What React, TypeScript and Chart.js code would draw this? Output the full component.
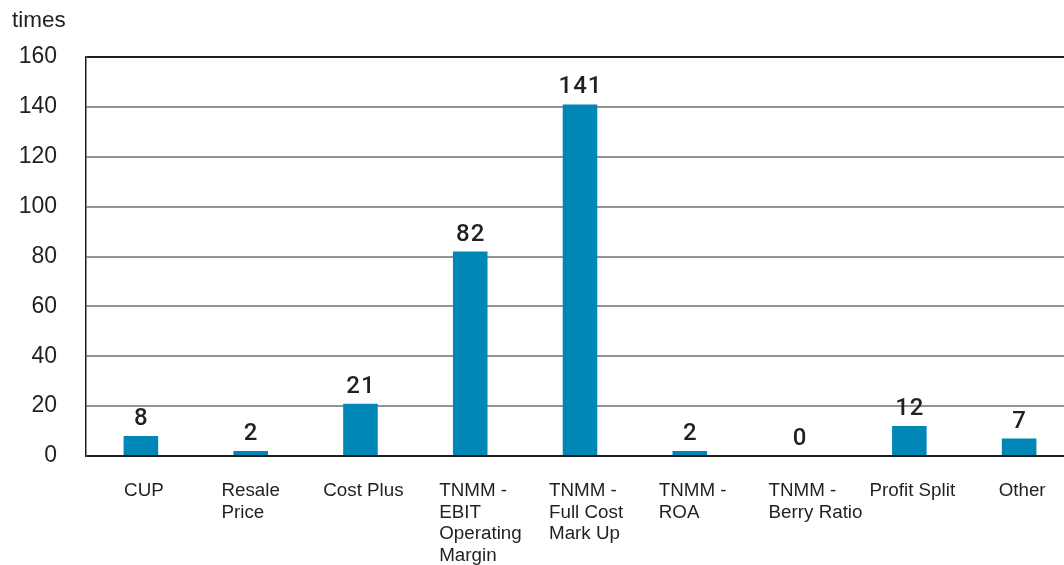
import React, { useEffect, useRef } from "react";
import { Chart, registerables } from "chart.js";

Chart.register(...registerables);

const categoryLines: string[][] = [
  ["CUP"],
  ["Resale", "Price"],
  ["Cost Plus"],
  ["TNMM -", "EBIT", "Operating", "Margin"],
  ["TNMM -", "Full Cost", "Mark Up"],
  ["TNMM -", "ROA"],
  ["TNMM -", "Berry Ratio"],
  ["Profit Split"],
  ["Other"],
];
const categories = categoryLines.map((l) => l.join(" "));
const counts = [8, 2, 21, 82, 141, 2, 0, 12, 7];
const yTicks = [0, 20, 40, 60, 80, 100, 120, 140, 160];
const unitLabel = "times";

const TEXT = "#231f20";
const BAR = "#0086b7";

export default function App() {
  const ref = useRef<HTMLCanvasElement | null>(null);

  useEffect(() => {
    if (!ref.current) return;
    const labelsPlugin = {
      id: "customLabels",
      afterDatasetsDraw(chart: any) {
        const ctx = chart.ctx;
        const meta = chart.getDatasetMeta(0);
        ctx.save();
        ctx.fillStyle = TEXT;
        ctx.font = '500 24px Roboto';
        try {
          (ctx as any).letterSpacing = "1px";
        } catch (e) {}
        ctx.textAlign = "center";
        ctx.textBaseline = "alphabetic";
        meta.data.forEach((bar: any, i: number) => {
          ctx.fillText(String(counts[i]), bar.x + 0.5, bar.y - 11);
        });
        ctx.restore();
      },
      afterDraw(chart: any) {
        const ctx = chart.ctx;
        const area = chart.chartArea;
        const xs = chart.scales.x;
        ctx.save();
        ctx.fillStyle = TEXT;
        ctx.textBaseline = "alphabetic";
        ctx.textAlign = "left";
        ctx.font = '22.5px "Liberation Sans", Arial, sans-serif';
        ctx.fillText(unitLabel, 12, area.top - 30.5);
        ctx.font = '18.8px "Liberation Sans", Arial, sans-serif';
        categoryLines.forEach((lines, i) => {
          const cx = xs.getPixelForValue(i);
          const maxW = Math.max(...lines.map((l) => ctx.measureText(l).width));
          const left =
            lines.length === 1 ? cx - maxW / 2 + 3 : cx - Math.min(maxW, 62) / 2;
          lines.forEach((line, j) => {
            ctx.fillText(line, left, area.bottom + 40 + j * 21.5);
          });
        });
        ctx.restore();
      },
    };

    const chart = new Chart(ref.current, {
      type: "bar",
      data: {
        labels: categories,
        datasets: [
          {
            data: counts,
            backgroundColor: BAR,
            borderWidth: 0,
            barPercentage: 0.315,
            categoryPercentage: 1.0,
          },
        ],
      },
      options: {
        animation: false,
        responsive: true,
        maintainAspectRatio: false,
        layout: { padding: { top: 57, bottom: 109, left: 0, right: 0 } },
        plugins: {
          legend: { display: false },
          tooltip: { enabled: false },
          title: { display: false },
        },
        scales: {
          x: {
            grid: { display: false, drawTicks: false },
            border: { display: false },
            ticks: { display: false },
            afterFit(s: any) {
              s.height = 0;
            },
          },
          y: {
            min: 0,
            max: 160,
            afterBuildTicks(s: any) {
              s.ticks = yTicks.map((v) => ({ value: v }));
            },
            ticks: {
              color: TEXT,
              padding: 29,
              font: { family: '"Liberation Sans", Arial, sans-serif', size: 23 },
            },
            grid: {
              drawTicks: false,
              color: (c: any) =>
                c.tick && (c.tick.value === 0 || c.tick.value === 160) ? "#1e1e1e" : "#939393",
              lineWidth: 2,
            },
            border: { display: true, color: "#1e1e1e", width: 1.5 },
            afterFit(s: any) {
              s.width = 86;
            },
          },
        },
      },
      plugins: [labelsPlugin],
    });
    return () => chart.destroy();
  }, []);

  return (
    <div
      style={{
        position: "fixed",
        left: 0,
        top: 0,
        width: 1064,
        height: 565,
        overflow: "hidden",
        background: "#fff",
      }}
    >
      <div style={{ position: "relative", width: 1074, height: 565 }}>
        <canvas ref={ref} />
      </div>
    </div>
  );
}
